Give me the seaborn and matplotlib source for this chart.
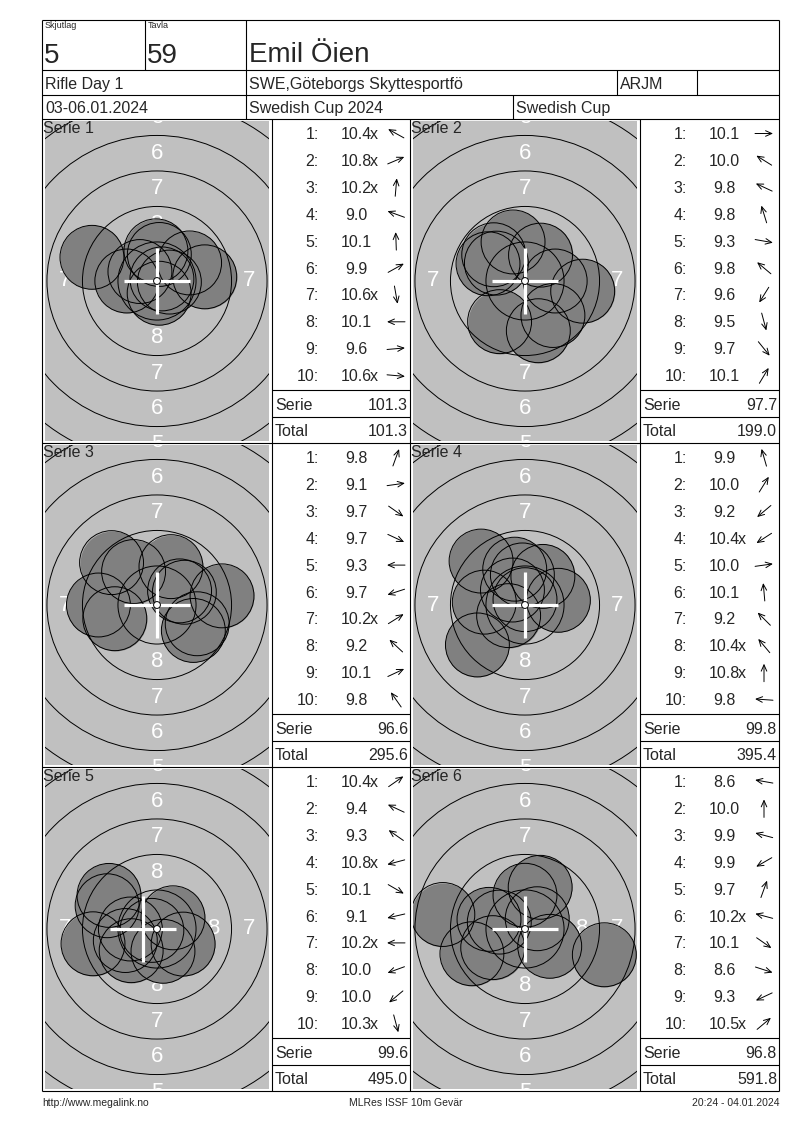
import numpy as np
import pandas as pd
import matplotlib
matplotlib.use("Agg")
import matplotlib.pyplot as plt
from matplotlib.patches import Circle
import seaborn as sns

# HEADER TEXTS
SKJUTLAG = "5"
TAVLA = "59"
NAME = "Emil Öien"
EVENT = "Rifle Day 1"
CLUB = "SWE,Göteborgs Skyttesportfö"
CLASS_NAME = "ARJM"
DATES = "03-06.01.2024"
COMPETITION = "Swedish Cup 2024"
CUP = "Swedish Cup"
FOOTER_LEFT = "http://www.megalink.no"
FOOTER_MID = "MLRes ISSF 10m Gevär"
FOOTER_RIGHT = "20:24 - 04.01.2024"

# SHOT DATA (decimal score, direction in degrees, inner ten flag)
SCORES_1 = [10.4, 10.8, 10.2, 9.0, 10.1, 9.9, 10.6, 10.1, 9.6, 10.6]
ANGLES_1 = [151, 23, 85, 160, 92, 29, 280, 180, 5, -5]
INNER_1 = [1, 1, 1, 0, 0, 0, 1, 0, 0, 1]

SCORES_2 = [10.1, 10.0, 9.8, 9.8, 9.3, 9.8, 9.6, 9.5, 9.7, 10.1]
ANGLES_2 = [0, 148, 155, 107, -10, 140, 238, 285, 309, 59]
INNER_2 = [0, 0, 0, 0, 0, 0, 0, 0, 0, 0]

SCORES_3 = [9.8, 9.1, 9.7, 9.7, 9.3, 9.7, 10.2, 9.2, 10.1, 9.8]
ANGLES_3 = [70, 8, -35, -25, 180, 198, 32, 137, 25, 125]
INNER_3 = [0, 0, 0, 0, 0, 0, 1, 0, 0, 0]

SCORES_4 = [9.9, 10.0, 9.2, 10.4, 10.0, 10.1, 9.2, 10.4, 10.8, 9.8]
ANGLES_4 = [106, 58, 220, 213, 8, 95, 135, 130, 90, 176]
INNER_4 = [0, 0, 0, 1, 0, 0, 0, 1, 1, 0]

SCORES_5 = [10.4, 9.4, 9.3, 10.8, 10.1, 9.1, 10.2, 10.0, 10.0, 10.3]
ANGLES_5 = [35, 155, 145, 195, -30, 193, 180, 200, 220, -75]
INNER_5 = [1, 0, 0, 1, 0, 0, 1, 0, 0, 1]

SCORES_6 = [8.6, 10.0, 9.9, 9.9, 9.7, 10.2, 10.1, 8.6, 9.3, 10.5]
ANGLES_6 = [170, 90, 165, 210, 70, 165, -35, -18, 205, 40]
INNER_6 = [0, 0, 0, 0, 0, 1, 0, 0, 0, 1]

SERIE_SUMS = ["101.3", "97.7", "96.6", "99.8", "99.6", "96.8"]
TOTALS = ["101.3", "199.0", "295.6", "395.4", "495.0", "591.8"]

# white cross position per serie (mm from centre)
CROSS_X = [0.0, 0.0, 0.0, 0.0, -1.0, 0.0]
CROSS_Y = [0.0, 0.0, 0.0, 0.0, 0.0, 0.0]

# TARGET GEOMETRY (10m air rifle, mm)
RING_RADII = [2.75, 5.25, 7.75, 10.25, 12.75, 15.25]
RING_LABELS = ["8", "7", "6", "5"]
LABEL_RADII = [4.0, 6.5, 9.0, 11.5]
SHOT_R = 2.25

# LAYOUT (pixels)
W, H = 800, 1130
PXMM = 14.2
ROW_TOPS = [119, 443, 767]
ROW_H = 324
COL_LEFTS = [42, 410]
TARGET_W = 230
TABLE_RIGHTS = [410, 779]
FONT = 11.5

sns.set_style("white")
plt.rcParams["font.family"] = ["Liberation Sans", "DejaVu Sans"]

fig = plt.figure(figsize=(W / 100, H / 100), dpi=100)
main = fig.add_axes([0, 0, 1, 1])
main.set_xlim(0, W)
main.set_ylim(H, 0)
main.axis("off")

LW = 0.8


def hline(y, x0, x1):
    main.plot([x0, x1], [y, y], color="black", lw=LW, solid_capstyle="butt")


def vline(x, y0, y1):
    main.plot([x, x], [y0, y1], color="black", lw=LW, solid_capstyle="butt")


# FRAME
for y in [20, 70, 95, 119, 443, 767, 1091]:
    hline(y, 42, 779)
vline(42, 20, 1091)
vline(779, 20, 1091)
vline(145, 20, 70)
vline(246, 20, 119)
vline(617, 70, 95)
vline(697, 70, 95)
vline(513, 95, 119)
for x in [272, 410, 640]:
    vline(x, 119, 1091)

# HEADER TEXT
main.text(45, 21, "Skjutlag", fontsize=6.5, va="top")
main.text(148, 21, "Tavla", fontsize=6.5, va="top")
main.text(44, 63, SKJUTLAG, fontsize=20, va="baseline")
main.text(147, 63, TAVLA, fontsize=20, va="baseline")
main.text(249, 62, NAME, fontsize=20, va="baseline")
main.text(45, 89, EVENT, fontsize=11.5, va="baseline")
main.text(249, 89, CLUB, fontsize=11.5, va="baseline")
main.text(620, 89, CLASS_NAME, fontsize=11.5, va="baseline")
main.text(45, 113, DATES, fontsize=11.5, va="baseline")
main.text(249, 113, COMPETITION, fontsize=11.5, va="baseline")
main.text(516, 113, CUP, fontsize=11.5, va="baseline")

# FOOTER
main.text(42, 1106, FOOTER_LEFT, fontsize=7.5, va="baseline")
main.text(406, 1106, FOOTER_MID, fontsize=7.5, va="baseline", ha="center")
main.text(779, 1106, FOOTER_RIGHT, fontsize=7.5, va="baseline", ha="right")

series = [
    (SCORES_1, ANGLES_1, INNER_1),
    (SCORES_2, ANGLES_2, INNER_2),
    (SCORES_3, ANGLES_3, INNER_3),
    (SCORES_4, ANGLES_4, INNER_4),
    (SCORES_5, ANGLES_5, INNER_5),
    (SCORES_6, ANGLES_6, INNER_6),
]

shot_pt = 2 * SHOT_R * PXMM * 72 / 100  # marker diameter in points

for k, (scores, angles, inner) in enumerate(series):
    row, col = divmod(k, 2)
    top = ROW_TOPS[row]
    left = COL_LEFTS[col]

    # TARGET
    gx0, gy0 = left + 3, top + 2
    gw, gh = TARGET_W - 6, ROW_H - 4
    xmax, ymax = gw / 2 / PXMM, gh / 2 / PXMM
    ax = fig.add_axes([gx0 / W, 1 - (gy0 + gh) / H, gw / W, gh / H])
    ax.set_facecolor("#c0c0c0")
    ax.set_xlim(-xmax, xmax)
    ax.set_ylim(-ymax, ymax)

    for lab, r in zip(RING_LABELS, LABEL_RADII):
        spots = [(0, r), (0, -r)]
        if r < xmax - 0.5:
            spots += [(r, 0), (-r, 0)]
        for px, py in spots:
            ax.text(px, py, lab, color="white", fontsize=16, ha="center",
                    va="center", clip_on=True, zorder=1)

    d = (10.95 - np.array(scores)) * 2.5
    a = np.radians(angles)
    shots = pd.DataFrame({"x": d * np.cos(a), "y": d * np.sin(a)})

    sns.scatterplot(data=shots, x="x", y="y", ax=ax, s=shot_pt ** 2,
                    color="#808080", linewidth=0, zorder=2)
    sns.scatterplot(data=shots, x="x", y="y", ax=ax, s=shot_pt ** 2,
                    facecolor="none", edgecolor="black", linewidth=0.7,
                    zorder=3)

    for r in RING_RADII:
        ax.add_patch(Circle((0, 0), r, fill=False, ec="black", lw=0.7,
                            zorder=3))

    mx, my = CROSS_X[k], CROSS_Y[k]
    half = 2.32
    ax.plot([mx - half, mx + half], [my, my], color="white", lw=2.3,
            solid_capstyle="butt", zorder=4)
    ax.plot([mx, mx], [my - half, my + half], color="white", lw=2.3,
            solid_capstyle="butt", zorder=4)
    ax.add_patch(Circle((0, 0), 0.24, fc="white", ec="black", lw=0.7,
                        zorder=5))

    ax.set_xlabel("")
    ax.set_ylabel("")
    ax.set_xticks([])
    ax.set_yticks([])
    for sp in ax.spines.values():
        sp.set_visible(False)

    ax.text(-2 / gw, 1.0, f"Serie {k + 1}", transform=ax.transAxes,
            fontsize=11.5, va="top", ha="left", clip_on=False, zorder=10)

    # TABLE
    tl = left + TARGET_W
    tr = TABLE_RIGHTS[col]
    for i, (s, ang, x_in) in enumerate(zip(scores, angles, inner)):
        base = top + 20 + 26.9 * i
        main.text(tl + 47, base, f"{i + 1}:", fontsize=FONT, ha="right",
                  va="baseline")
        main.text(tl + 84, base, f"{s:.1f}", fontsize=FONT, ha="center",
                  va="baseline")
        if x_in:
            main.text(tl + 97.5, base, "x", fontsize=FONT, ha="left",
                      va="baseline")
        cx, cy = tl + 124, base - 5.5
        dx, dy = 9 * np.cos(np.radians(ang)), -9 * np.sin(np.radians(ang))
        main.annotate("", xy=(cx + dx, cy + dy), xytext=(cx - dx, cy - dy),
                      arrowprops=dict(arrowstyle="->,head_length=0.45,head_width=0.2",
                                      lw=0.7, color="black",
                                      shrinkA=0, shrinkB=0))

    hline(top + 271, tl, tr)
    hline(top + 298, tl, tr)
    main.text(tl + 3, top + 291, "Serie", fontsize=FONT, va="baseline")
    main.text(tr - 2, top + 291, SERIE_SUMS[k], fontsize=FONT, va="baseline",
              ha="right")
    main.text(tl + 3, top + 316.5, "Total", fontsize=FONT, va="baseline")
    main.text(tr - 2, top + 316.5, TOTALS[k], fontsize=FONT, va="baseline",
              ha="right")

plt.savefig("out.png", dpi=100)
